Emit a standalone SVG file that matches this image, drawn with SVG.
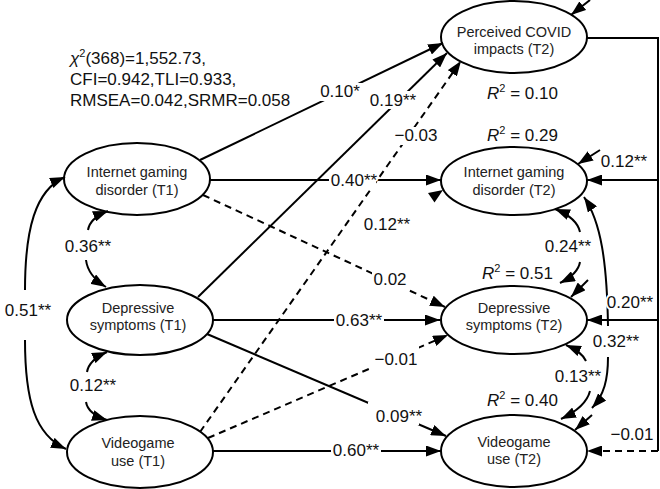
<svg xmlns="http://www.w3.org/2000/svg" width="660" height="489" viewBox="0 0 660 489">
<style>
.n ellipse{fill:#fff;stroke:#000;stroke-width:2}
.n text{font-family:"Liberation Sans",Arial,sans-serif;font-size:14.5px;text-anchor:middle;fill:#222}
.c path{fill:none;stroke:#000;stroke-width:2}
.c .d{stroke-dasharray:7 5}
.lab rect{fill:#fff;stroke:none}
.lab text{font-family:"Liberation Sans",Arial,sans-serif;font-size:17px;text-anchor:middle;fill:#111;stroke:#fff;stroke-width:4;paint-order:stroke;stroke-linejoin:round}
.fit text{font-family:"Liberation Sans",Arial,sans-serif;font-size:17px;fill:#111}
</style>
<defs>
<marker id="ah" viewBox="0 0 15 11" refX="15" refY="5.5" markerWidth="15" markerHeight="11" orient="auto" markerUnits="userSpaceOnUse">
<path d="M0,0 L15,5.5 L0,11 z" fill="#000"/>
</marker>
</defs>

<g class="fit">
<text x="70" y="64"><tspan font-style="italic">χ</tspan><tspan font-size="11" dy="-7">2</tspan><tspan dy="7">(368)=1,552.73,</tspan></text>
<text x="70" y="85">CFI=0.942,TLI=0.933,</text>
<text x="70" y="106">RMSEA=0.042,SRMR=0.058</text>
</g>

<g id="covid_t2" class="n"><ellipse cx="514" cy="37" rx="73" ry="36"/><text x="514" y="37">Perceived COVID</text><text x="514" y="54">impacts (T2)</text></g>
<g id="igd_t1" class="n"><ellipse cx="137" cy="179" rx="73" ry="36"/><text x="137" y="177">Internet gaming</text><text x="137" y="195">disorder (T1)</text></g>
<g id="dep_t1" class="n"><ellipse cx="140" cy="320" rx="73" ry="35"/><text x="138" y="313">Depressive</text><text x="138" y="330">symptoms (T1)</text></g>
<g id="vg_t1" class="n"><ellipse cx="140" cy="452" rx="73" ry="36"/><text x="138" y="448">Videogame</text><text x="138" y="466">use (T1)</text></g>
<g id="igd_t2" class="n"><ellipse cx="514" cy="181" rx="73" ry="34"/><text x="514" y="177">Internet gaming</text><text x="514" y="195">disorder (T2)</text></g>
<g id="dep_t2" class="n"><ellipse cx="514" cy="320" rx="73" ry="34"/><text x="514" y="313">Depressive</text><text x="514" y="330">symptoms (T2)</text></g>
<g id="vg_t2" class="n"><ellipse cx="514" cy="451" rx="73" ry="36"/><text x="514" y="447">Videogame</text><text x="514" y="464">use (T2)</text></g>

<g id="connectors" class="c">
<path d="M200,160 L443,43" marker-end="url(#ah)"/>
<path d="M198,297 L447,53" marker-end="url(#ah)"/>
<path class="d" d="M200,432 L461,61" marker-end="url(#ah)"/>
<path d="M210,180 L441,180" marker-end="url(#ah)"/>
<path class="d" d="M203,195 L445,307" marker-end="url(#ah)"/>
<path d="M213,320 L440,320" marker-end="url(#ah)"/>
<path d="M207,334 L446,436" marker-end="url(#ah)"/>
<path class="d" d="M208,438 L448,335" marker-end="url(#ah)"/>
<path d="M213,451 L441,451" marker-end="url(#ah)"/>
<polygon points="443,190 434.5,202.5 428,193" fill="#000"/>
<path d="M587,38 H658 V451"/>
<path d="M658,180 H587" marker-end="url(#ah)"/>
<path d="M658,320 H587" marker-end="url(#ah)"/>
<path class="d" d="M658,451 H587" marker-end="url(#ah)"/>
<path d="M590,0 L571,15" marker-end="url(#ah)"/>
<path d="M600,150 L578,164" marker-end="url(#ah)"/>
<path d="M588,280 L571,297" marker-end="url(#ah)"/>
<path d="M592,415 L575,430" marker-end="url(#ah)"/>
<path d="M580,232 Q577,218 555,209" marker-end="url(#ah)"/>
<path d="M580,262 Q578,274 560,283" marker-end="url(#ah)"/>
<path d="M608,326 C607,262 601,222 584,197" marker-end="url(#ah)"/>
<path d="M608,357 C608,380 604,395 592,408" marker-end="url(#ah)"/>
<path d="M586,361 Q582,352 566,345" marker-end="url(#ah)"/>
<path d="M590,391 Q586,407 561,419" marker-end="url(#ah)"/>
<path d="M25,290 C25,230 35,190 65,177" marker-end="url(#ah)"/>
<path d="M25,340 C25,400 35,435 66,449" marker-end="url(#ah)"/>
<path d="M88,230 Q90,218 108,211" marker-end="url(#ah)"/>
<path d="M86,260 Q88,276 106,287" marker-end="url(#ah)"/>
<path d="M87,372 Q89,360 107,352" marker-end="url(#ah)"/>
<path d="M86,402 Q88,414 107,420" marker-end="url(#ah)"/>
</g>

<g class="lab">
<rect x="319" y="83" width="44" height="18"/>
<rect x="369" y="91" width="48" height="18"/>
<rect x="394" y="127" width="45" height="18"/>
<rect x="329" y="172" width="47" height="17"/>
<rect x="372" y="270" width="36" height="22"/>
<rect x="334" y="312" width="50" height="17"/>
<rect x="373" y="346" width="46" height="22"/>
<rect x="368" y="402" width="51" height="23"/>
<rect x="331" y="442" width="50" height="17"/>
<text x="340" y="97">0.10*</text>
<text x="393" y="106">0.19**</text>
<text x="416" y="141">−0.03</text>
<text x="354" y="186">0.40**</text>
<text x="387" y="230">0.12**</text>
<text x="390" y="285">0.02</text>
<text x="359" y="326">0.63**</text>
<text x="396" y="365">−0.01</text>
<text x="399" y="422">0.09**</text>
<text x="356" y="456">0.60**</text>
<text x="624" y="167">0.12**</text>
<text x="568" y="252">0.24**</text>
<text x="630" y="308">0.20**</text>
<text x="616" y="347">0.32**</text>
<text x="578" y="382">0.13**</text>
<text x="632" y="440">−0.01</text>
<text x="28" y="316">0.51**</text>
<text x="88" y="252">0.36**</text>
<text x="93" y="391">0.12**</text>
</g>

<g class="fit">
<text x="487" y="99"><tspan font-style="italic">R</tspan><tspan font-size="11" dy="-7">2</tspan><tspan dy="7"> = 0.10</tspan></text>
<text x="487" y="141"><tspan font-style="italic">R</tspan><tspan font-size="11" dy="-7">2</tspan><tspan dy="7"> = 0.29</tspan></text>
<text x="482" y="279"><tspan font-style="italic">R</tspan><tspan font-size="11" dy="-7">2</tspan><tspan dy="7"> = 0.51</tspan></text>
<text x="487" y="406"><tspan font-style="italic">R</tspan><tspan font-size="11" dy="-7">2</tspan><tspan dy="7"> = 0.40</tspan></text>
</g>
</svg>
